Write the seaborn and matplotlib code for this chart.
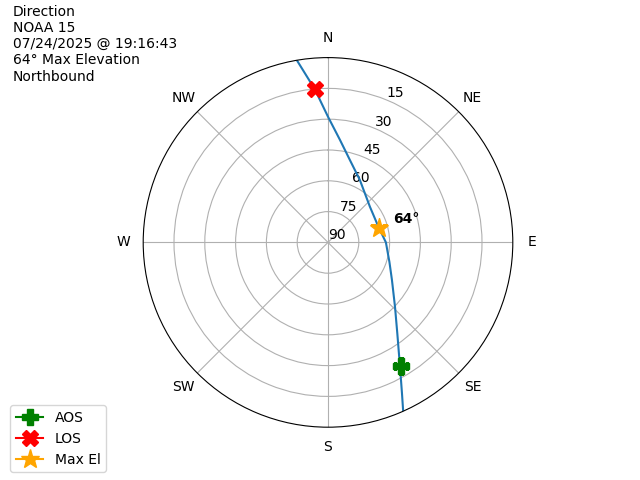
import numpy as np
import matplotlib
matplotlib.use('Agg')
import matplotlib.pyplot as plt
import seaborn as sns

# pass track (azimuth deg, elevation deg)
track_az = [156.0, 153.9, 149.9, 142.7, 133.8, 120.4, 107.7, 90.0, 72.7, 49.6, 27.1, 14.9, 6.7, 0.0, 355.1, 350.3]
track_el = [0.0, 8.1, 20.1, 34.3, 44.8, 53.9, 58.6, 61.8, 64.3, 63.2, 55.9, 48.5, 39.8, 28.8, 15.2, 0.0]

aos = (149.4, 20.1)
los = (355.1, 15.2)
max_el = (74.5, 64.0)

compass = ['N', 'NE', 'E', 'SE', 'S', 'SW', 'W', 'NW']
r_ticks = [0, 15, 30, 45, 60, 75]
r_labels = ['90', '75', '60', '45', '30', '15']

header = "Direction\nNOAA 15\n07/24/2025 @ 19:16:43\n64° Max Elevation\nNorthbound"

fig = plt.figure(figsize=(6.4, 4.8), dpi=100)
ax = fig.add_subplot(111, projection='polar')
ax.set_theta_zero_location('N')
ax.set_theta_direction(-1)

# radius = 90 - elevation so zenith sits in the middle
theta = np.unwrap(np.radians(track_az))
radius = 90 - np.array(track_el)
sns.lineplot(x=theta, y=radius, sort=False, estimator=None, ax=ax, color='C0', linewidth=1.5)

ax.plot(np.radians(aos[0]), 90 - aos[1], marker='P', color='green', markersize=12, label='AOS')
ax.plot(np.radians(los[0]), 90 - los[1], marker='X', color='red', markersize=12, label='LOS')
ax.plot(np.radians(max_el[0]), 90 - max_el[1], marker='*', color='orange', markersize=14, label='Max El')
ax.annotate(f"{max_el[1]:.0f}°", (np.radians(max_el[0]), 90 - max_el[1]),
            xytext=(10, 4), textcoords='offset points', fontweight='bold')

ax.set_rlim(0, 90)
ax.set_rticks(r_ticks)
ax.set_yticklabels(r_labels)
ax.set_thetagrids(range(0, 360, 45), compass)
ax.set_xlabel('')
ax.set_ylabel('')

fig.text(0.02, 0.99, header, ha='left', va='top', fontsize=10)
fig.legend(loc='lower left', bbox_to_anchor=(0.005, 0.002))

fig.savefig('out.png', dpi=100)
